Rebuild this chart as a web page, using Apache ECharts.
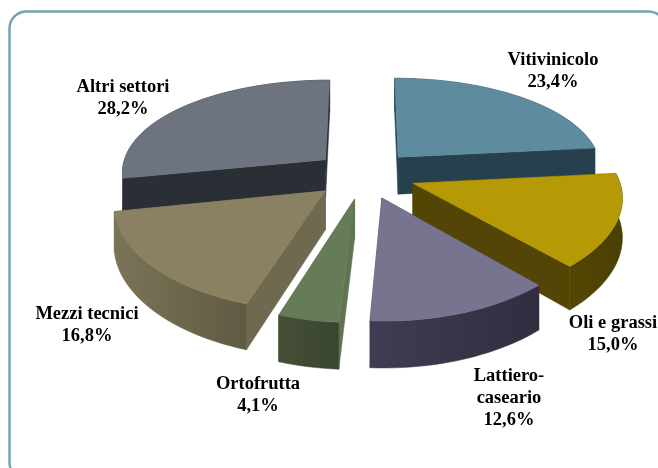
<!DOCTYPE html>
<html><head><meta charset="utf-8">
<style>html,body{margin:0;padding:0;background:#fff}#c{width:658px;height:468px}</style>
<script src="https://cdn.jsdelivr.net/npm/echarts@6/dist/echarts.min.js"></script>
</head><body><div id="c"></div>
<script>
const categories = ['Vitivinicolo','Oli e grassi','Lattiero-\ncaseario','Ortofrutta','Mezzi tecnici','Altri settori'];
const values = [23.4,15.0,12.6,4.1,16.8,28.2];
const valueLabels = ['23,4%','15,0%','12,6%','4,1%','16,8%','28,2%'];
const topColors = ['#5e8c9e','#b59a05','#787490','#667c58','#8a8062','#6d7480'];
const sideColors = [['#27404d','#27404d'],['#544705','#4a3f04'],['#403d52','#2f2d3f'],['#454f36','#3a452e'],['#7b7457','#5f5a42'],['#2a2e35','#2a2e35']];
const cutColors = ['#27404d','#524505','#3e3b50','#5f7450','#6f6950','#2a2e35'];
const drawOrder = [0,5,1,4,2,3];
const labelAt = [[553,71],[613,334],[509,398],[258,395],[87,325],[123,98]];

const CX=364.5, CY=174.5, RX=205, RY=96, KX=0.12, K=0.154, H=38, EXPLODE=0.25;
const total = values.reduce((a,b)=>a+b,0);
const rad = d=>d*Math.PI/180;
function project(X,Y,z){const f=1/(1-K*Y), fx=1/(1-KX*Y);return [CX+RX*X*fx, CY+(RY*Y+z)*f];}

function renderItem(params){
  const i = drawOrder[params.dataIndex];
  let start=0; for(let j=0;j<i;j++) start+=values[j]/total*360;
  const end = start+values[i]/total*360, mid=(start+end)/2;
  const ex=EXPLODE*Math.sin(rad(mid)), ey=-EXPLODE*Math.cos(rad(mid));
  const at=(deg,z)=>project(ex+Math.sin(rad(deg)),ey-Math.cos(rad(deg)),z);
  const apexT=project(ex,ey,0), apexB=project(ex,ey,H);
  const topPts=[apexT], arcT=[], arcB=[];
  const n=Math.max(6,Math.ceil((end-start)/2));
  for(let s=0;s<=n;s++){const d=start+(end-start)*s/n;const p=at(d,0);topPts.push(p);arcT.push(p);arcB.push(at(d,H));}
  const poly=(points,fill)=>({type:'polygon',shape:{points},style:{fill,stroke:fill,lineWidth:0.5}});
  const grad=c=>({type:'linear',x:0,y:0,x2:1,y2:0,colorStops:[{offset:0,color:c[0]},{offset:1,color:c[1]}]});
  return {type:'group',children:[
    poly([apexT,at(end,0),at(end,H),apexB],cutColors[i]),
    poly([apexT,at(start,0),at(start,H),apexB],cutColors[i]),
    poly(arcT.concat(arcB.slice().reverse()),grad(sideColors[i])),
    poly(topPts,topColors[i])
  ]};
}

const chart=echarts.init(document.getElementById('c'),null,{renderer:'canvas'});
chart.setOption({
  animation:false,
  backgroundColor:'#fff',
  graphic:{elements:[
    {type:'rect',silent:true,z:0,shape:{x:9.5,y:11.5,width:656,height:468,r:17},style:{fill:'#fff',stroke:'#74a3b3',lineWidth:2.5}}
  ].concat(categories.map((c,i)=>({
    type:'text',z:10,x:labelAt[i][0],y:labelAt[i][1],
    style:{text:c+'\n'+valueLabels[i],align:'center',verticalAlign:'middle',
      font:'bold 18.5px "Liberation Serif"',lineHeight:22,fill:'#000'}
  })))},
  series:[{type:'custom',coordinateSystem:'none',renderItem,data:drawOrder.map(i=>values[i]),silent:true,z:5}]
});
</script></body></html>
